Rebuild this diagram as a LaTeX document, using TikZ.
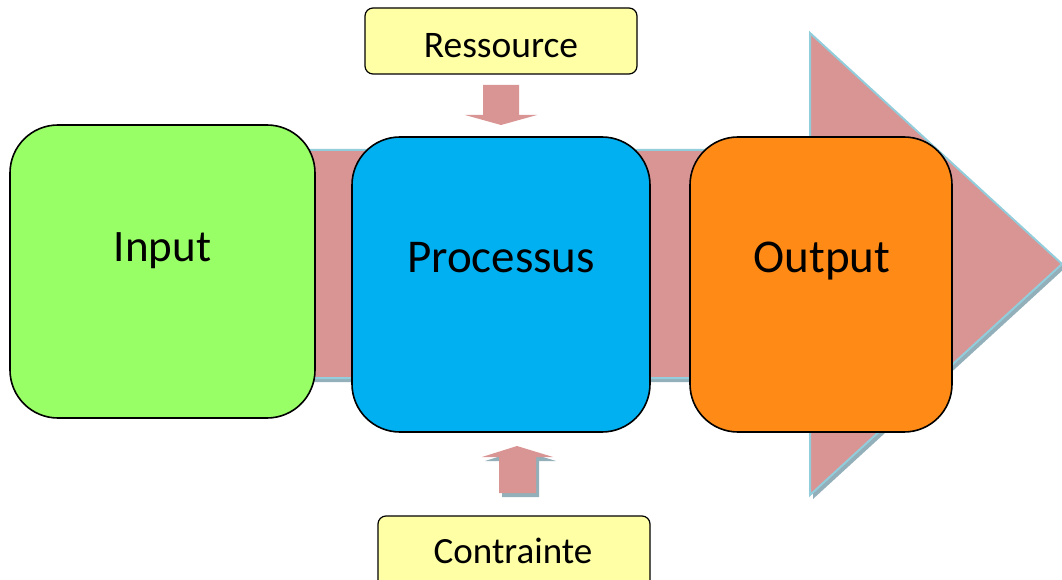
\documentclass[tikz,border=0pt]{standalone}
\usepackage{fontspec}
\setmainfont{Carlito}
\definecolor{flowfill}{HTML}{D99594}
\definecolor{flowline}{HTML}{92CDDC}
\definecolor{flowshadow}{HTML}{93AFB9}
\definecolor{ingreen}{HTML}{99FF66}
\definecolor{procblue}{HTML}{00B0F0}
\definecolor{outorange}{HTML}{FF8B16}
\definecolor{noteyellow}{HTML}{FFFFA6}
\tikzset{
  stage/.style={draw=black, line width=1.6pt, rounded corners=48pt, inner sep=0pt},
  note/.style={draw=black, line width=1.2pt, fill=noteyellow, rounded corners=8pt, inner sep=0pt},
  labeltext/.style={inner sep=0pt, anchor=base},
  flow/.style={fill=flowfill},
  shadowed/.style={fill=flowshadow}
}
\begin{document}
\begin{tikzpicture}[x=1pt,y=-1pt]
\useasboundingbox (0,0) rectangle (1062,580);

% main flow arrow: shadow, outline, fill
\fill[shadowed, shift={(3,4)}]
  (200,150) -- (810,150) -- (810,33) -- (1062,264) -- (810,495) -- (810,378) -- (200,378) -- cycle;
\draw[flow, draw=flowline, line width=2pt, line join=miter]
  (200,150) -- (810,150) -- (810,33) -- (1062,264) -- (810,495) -- (810,378) -- (200,378) -- cycle;

% resource arrow (down)
\fill[flow] (483,85) -- (519,85) -- (519,115) -- (537,115) -- (501,125) -- (465,115) -- (483,115) -- cycle;

% constraint arrow (up), with shadow
\fill[shadowed, shift={(3,4)}] (499,493) -- (499,457) -- (482,457) -- (517,446) -- (553,457) -- (536,457) -- (536,493) -- cycle;
\fill[flow] (499,493) -- (499,457) -- (482,457) -- (517,446) -- (553,457) -- (536,457) -- (536,493) -- cycle;

% stages
\node[stage, fill=ingreen, minimum width=305pt, minimum height=293pt] (input) at (162.5,271.5) {};
\node[stage, fill=procblue, minimum width=298pt, minimum height=295pt] (proc) at (501,284.5) {};
\node[stage, fill=outorange, minimum width=262pt, minimum height=295pt] (output) at (821,284.5) {};

\node[labeltext, font=\fontsize{45}{54}\selectfont] (inputlbl) at (162.5,261) {Input};
\node[labeltext, font=\fontsize{47}{56}\selectfont] (proclbl) at (501,272) {Processus};
\node[labeltext, font=\fontsize{47}{56}\selectfont] (outputlbl) at (822,272) {Output};

% notes
\node[note, minimum width=272pt, minimum height=66pt] (res) at (501,41) {};
\node[labeltext, font=\fontsize{37.5}{45}\selectfont] (reslbl) at (501,58) {Ressource};
\node[note, minimum width=272pt, minimum height=80pt] (con) at (514,556) {};
\node[labeltext, font=\fontsize{37}{44}\selectfont] (conlbl) at (513,563) {Contrainte};
\end{tikzpicture}
\end{document}
